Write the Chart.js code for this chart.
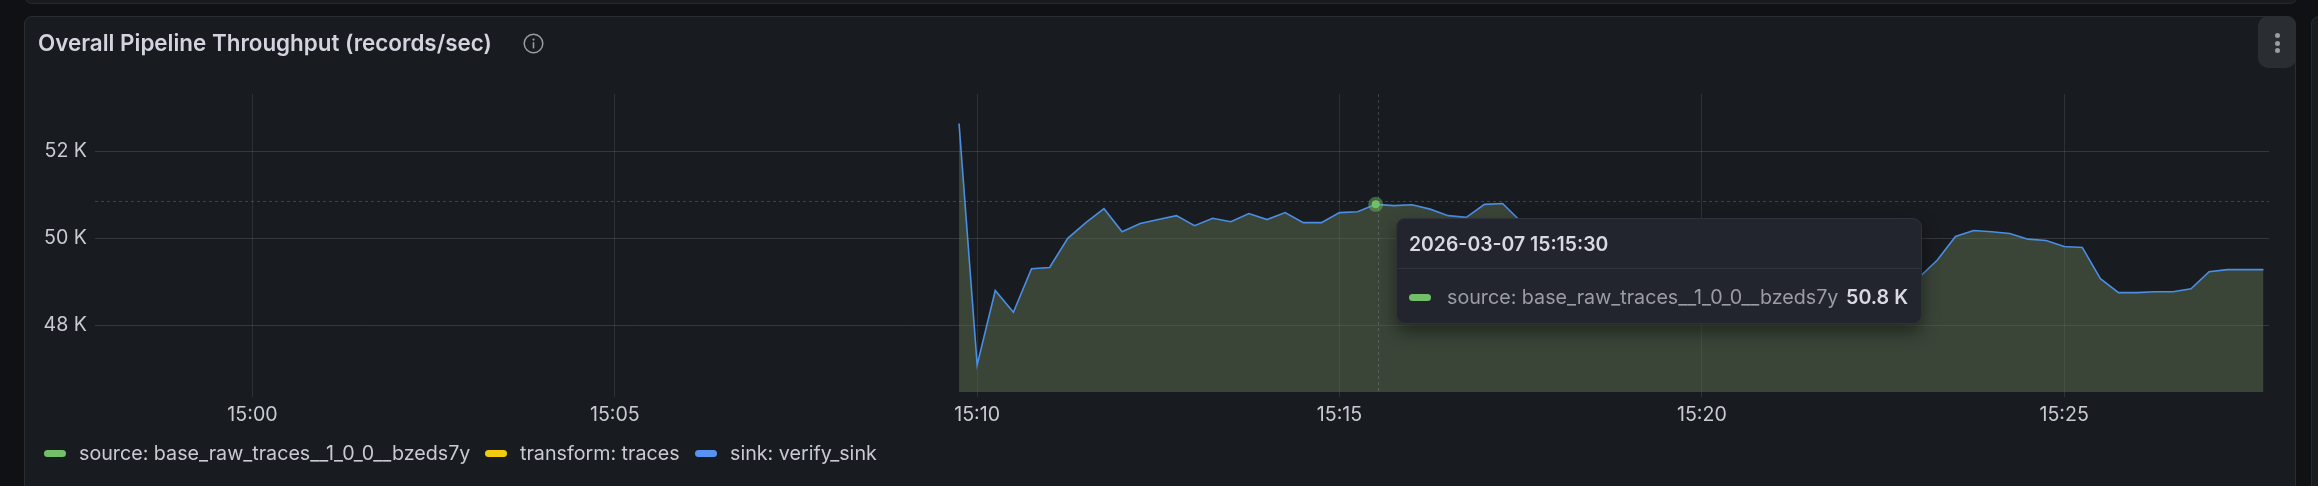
<!DOCTYPE html>
<html>
<head>
<meta charset="utf-8">
<title>Overall Pipeline Throughput</title>
<script src="https://cdn.jsdelivr.net/npm/chart.js@4"></script>
<style>
html, body { margin: 0; padding: 0; background: #0f1114; width: 2318px; height: 486px; overflow: hidden; font-family: Inter, sans-serif; }
.abs { position: absolute; white-space: nowrap; }
#topPanel { position: absolute; left: 24px; top: -20px; width: 2272px; height: 22px; background: #181b20; border: 1px solid #26292e; border-radius: 8px; }
#rightPanel { position: absolute; left: 2311px; top: 16px; width: 40px; height: 500px; background: #181b20; border: 1px solid #26292e; border-radius: 8px; }
#panel { position: absolute; left: 24px; top: 16px; width: 2272px; height: 480px; background: #181b20; border: 1px solid #2a2d32; border-radius: 8px; box-sizing: border-box; }
#main { position: absolute; left: 0; top: 0; }
#title { left: 38px; top: 30px; font-size: 22.4px; line-height: 26px; font-weight: 600; color: #d3d4de; }
#info { left: 522px; top: 32px; }
#menu { left: 2258px; top: 16px; width: 38px; height: 52px; background: #2a2d32; border-radius: 10px; }
.dot { position: absolute; left: 16.5px; width: 5px; height: 5px; border-radius: 50%; background: #9a9ca3; }
.legendText { font-size: 19.7px; line-height: 24px; color: #c9cad4; top: 441px; }
.swatch { position: absolute; height: 7px; width: 22px; border-radius: 4px; }
#tip { left: 1396px; top: 218px; width: 526px; height: 106px; box-sizing: border-box; background: #22252d; border: 1px solid #2f3239; border-radius: 9px; box-shadow: 0 8px 18px rgba(0,0,0,.45); }
#tipLine { position: absolute; left: 0; right: 0; top: 49px; height: 1px; background: #31343b; }
#tipTitle { left: 12px; top: 13px; font-size: 19.4px; line-height: 24px; font-weight: 600; color: #d8d9e2; }
#tipName { left: 50px; top: 66px; font-size: 19.7px; line-height: 24px; color: #9b9ca6; }
#tipValue { right: 13px; top: 66px; font-size: 19.7px; line-height: 24px; font-weight: 600; color: #d8d9e2; }
</style>
</head>
<body>
<div id="topPanel"></div>
<div id="rightPanel"></div>
<div id="panel"></div>
<canvas id="main" width="2318" height="486"></canvas>
<div class="abs" id="title">Overall Pipeline Throughput (records/sec)</div>
<svg class="abs" id="info" width="23" height="23" viewBox="0 0 23 23">
  <circle cx="11.5" cy="11.5" r="9.3" fill="none" stroke="#9a9ca3" stroke-width="1.5"/>
  <circle cx="11.5" cy="7.6" r="1.1" fill="#9a9ca3"/>
  <rect x="10.7" y="10.2" width="1.6" height="6.2" fill="#9a9ca3"/>
</svg>
<div class="abs" id="menu"><div class="dot" style="top:17px"></div><div class="dot" style="top:24.5px"></div><div class="dot" style="top:32px"></div></div>
<div id="legend"></div>
<div class="abs" id="tip">
  <div class="abs" id="tipTitle"></div>
  <div id="tipLine"></div>
  <div class="swatch" id="tipSwatch" style="left:12px; top:75px"></div>
  <div class="abs" id="tipName"></div>
  <div class="abs" id="tipValue"></div>
</div>
<script>
const times = [
  "15:09:45","15:10:00","15:10:15","15:10:30","15:10:45","15:11:00","15:11:15","15:11:30","15:11:45",
  "15:12:00","15:12:15","15:12:30","15:12:45","15:13:00","15:13:15","15:13:30","15:13:45",
  "15:14:00","15:14:15","15:14:30","15:14:45","15:15:00","15:15:15","15:15:30","15:15:45",
  "15:16:00","15:16:15","15:16:30","15:16:45","15:17:00","15:17:15","15:17:30","15:17:45",
  "15:18:00","15:18:15","15:18:30","15:18:45","15:19:00","15:19:15","15:19:30","15:19:45",
  "15:20:00","15:20:15","15:20:30","15:20:45","15:21:00","15:21:15","15:21:30","15:21:45",
  "15:22:00","15:22:15","15:22:30","15:22:45","15:23:00","15:23:15","15:23:30","15:23:45",
  "15:24:00","15:24:15","15:24:30","15:24:45","15:25:00","15:25:15","15:25:30","15:25:45",
  "15:26:00","15:26:15","15:26:30","15:26:45","15:27:00","15:27:15","15:27:30","15:27:45"
];
// 15:17:45 to 15:22:45 sits behind the tooltip in the picture, those are a guess
const sourceValues = [
  52640,47090,48800,48300,49300,49330,50000,50360,50680,
  50150,50340,50430,50520,50290,50460,50380,50570,
  50430,50590,50360,50360,50590,50610,50780,50750,
  50770,50670,50520,50480,50780,50800,50390,50280,
  50220,50250,50170,50110,50140,50030,49970,49880,
  49790,49710,49620,49540,49470,49360,49300,49210,
  49140,49050,48970,48920,49100,49500,50040,50180,
  50150,50110,49980,49950,49810,49790,49070,48750,
  48750,48770,48770,48840,49230,49280,49280,49280
];
const transformValues = sourceValues;
const sinkValues = sourceValues;
const seriesNames = ["source: base_raw_traces__1_0_0__bzeds7y", "transform: traces", "sink: verify_sink"];
const seriesColors = ["#73bf69", "#f2cc0c", "#5794f2"];
const xTickLabels = ["15:00", "15:05", "15:10", "15:15", "15:20", "15:25"];
const yTicks = [48000, 50000, 52000];
const hoverTime = "15:15:30";
const tooltipDate = "2026-03-07";
const cursorTime = "15:15:32";
const cursorValue = 50850;

// seconds after 15:00, the x axis is a plain linear scale
const toSec = (t) => {
    const p = t.split(":").map(Number);
    return (p[0] - 15) * 3600 + p[1] * 60 + (p[2] || 0);
}
const toPoints = (vals) => vals.map((v, i) => ({x: toSec(times[i]), y: v}));
const hoverIndex = times.indexOf(hoverTime);

const crosshair = {
    id: "crosshair",
    afterDatasetsDraw(chart) {
        const c = chart.ctx, a = chart.chartArea;
        const x = chart.scales.x.getPixelForValue(toSec(cursorTime));
        const y = chart.scales.y.getPixelForValue(cursorValue);
        c.save();
        c.strokeStyle = "rgba(204,204,220,0.22)";
        c.lineWidth = 1;
        c.setLineDash([3, 3]);
        c.beginPath();
        c.moveTo(a.left, Math.round(y) + 0.5);
        c.lineTo(a.right, Math.round(y) + 0.5);
        c.moveTo(Math.round(x) + 0.5, a.top);
        c.lineTo(Math.round(x) + 0.5, a.bottom);
        c.stroke();
        c.setLineDash([]);
        // the hovered point with its halo
        const p = chart.getDatasetMeta(2).data[hoverIndex];
        c.fillStyle = "rgba(115,191,105,0.45)";
        c.beginPath();
        c.arc(p.x, p.y, 7.5, 0, Math.PI * 2);
        c.fill();
        c.fillStyle = seriesColors[0];
        c.beginPath();
        c.arc(p.x, p.y, 4, 0, Math.PI * 2);
        c.fill();
        c.restore();
    }
};

new Chart(document.getElementById("main"), {
    type: "line",
    data: {
        datasets: [
            {label: seriesNames[2], data: toPoints(sinkValues), borderColor: "#4a8ee6", borderWidth: 1.6, pointRadius: 0, tension: 0, fill: false, order: 1},
            // the other two lie exactly under the blue one
            {label: seriesNames[1], data: toPoints(transformValues), borderColor: seriesColors[1], borderWidth: 0, pointRadius: 0, tension: 0, fill: false, order: 2},
            {label: seriesNames[0], data: toPoints(sourceValues), borderColor: seriesColors[0], backgroundColor: "rgba(92,111,80,0.5)", borderWidth: 0, pointRadius: 0, tension: 0, fill: "start", order: 3}
        ]
    },
    options: {
        responsive: false,
        animation: false,
        events: [],
        layout: {padding: {left: 0, top: 94, right: 49, bottom: 56}},
        plugins: {legend: {display: false}, tooltip: {enabled: false}},
        scales: {
            x: {
                type: "linear",
                min: -130.4,
                max: 1669.6,
                afterBuildTicks: (axis) => { axis.ticks = xTickLabels.map(l => ({value: toSec(l)})); },
                afterFit: (axis) => { axis.height = 38; },
                border: {display: false},
                grid: {color: "rgba(204,204,220,0.13)", lineWidth: 1, tickLength: 5, tickColor: "rgba(204,204,220,0.13)"},
                ticks: {
                    maxRotation: 0,
                    autoSkip: false,
                    padding: 6,
                    color: "#c9cad4",
                    font: {family: "Inter", size: 19.6},
                    callback: (v) => xTickLabels.find(l => toSec(l) === v)
                }
            },
            y: {
                min: 46466,
                max: 53317,
                afterBuildTicks: (axis) => { axis.ticks = yTicks.map(v => ({value: v})); },
                afterFit: (axis) => { axis.width = 95; },
                border: {display: false},
                grid: {color: "rgba(204,204,220,0.16)", lineWidth: 1, drawTicks: false},
                ticks: {
                    padding: 8,
                    color: "#c9cad4",
                    font: {family: "Inter", size: 19.6},
                    callback: (v) => (v / 1000) + " K"
                }
            }
        }
    },
    plugins: [crosshair]
});

// legend and tooltip are html like in the original dashboard
const legendX = [[44, 79], [485, 520], [695, 730]];
const legend = document.getElementById("legend");
seriesNames.forEach((name, i) => {
    legend.innerHTML += `<div class="swatch" style="left:${legendX[i][0]}px; top:450px; background:${seriesColors[i]}"></div>` +
        `<div class="abs legendText" style="left:${legendX[i][1]}px">${name}</div>`;
});
document.getElementById("tipTitle").innerText = tooltipDate + " " + hoverTime;
document.getElementById("tipSwatch").style.background = seriesColors[0];
document.getElementById("tipName").innerText = seriesNames[0];
document.getElementById("tipValue").innerText = (sourceValues[hoverIndex] / 1000).toFixed(1) + " K";
</script>
</body>
</html>
